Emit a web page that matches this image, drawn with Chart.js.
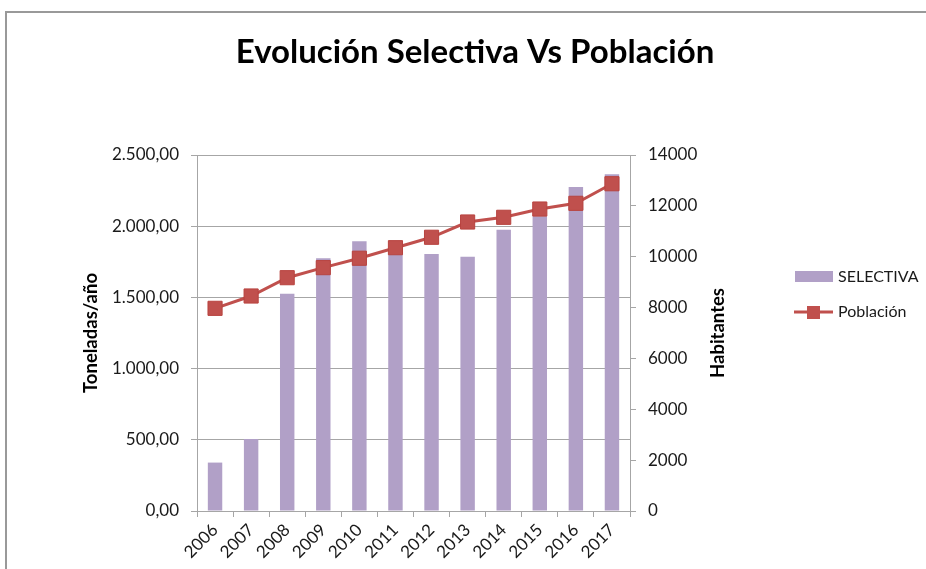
<!DOCTYPE html>
<html>
<head>
<meta charset="utf-8">
<script src="https://cdn.jsdelivr.net/npm/chart.js@4"></script>
<style>
  html, body { margin: 0; padding: 0; background: #fff; overflow: hidden; }
  #wrap { position: relative; width: 926px; height: 569px; }
  #frame { position: absolute; left: 5px; top: 11px; width: 1000px; height: 700px;
           border: 2px solid #999; box-sizing: border-box; }
  canvas { position: absolute; left: 0; top: 0; }
</style>
</head>
<body>
<div id="wrap">
  <div id="frame"></div>
  <canvas id="chart" width="926" height="569"></canvas>
</div>
<script>
(function () {
  'use strict';

  const YEARS     = ['2006', '2007', '2008', '2009', '2010', '2011', '2012', '2013', '2014', '2015', '2016', '2017'];
  const SELECTIVA = [340, 505, 1525, 1775, 1895, 1830, 1805, 1785, 1975, 2070, 2275, 2365];
  const POBLACION = [7970, 8455, 9175, 9570, 9940, 10355, 10765, 11365, 11550, 11875, 12100, 12870];

  const PURPLE = '#B1A0C7';
  const RED    = '#C0504D';
  const GRID   = '#a6a6a6';
  const TEXT   = '#1a1a1a';
  const FONT   = 'Lato';

  // 2500 -> "2.500,00"
  function fmtTon(v) {
    const parts = Math.round(v).toString().replace(/\B(?=(\d{3})+(?!\d))/g, '.');
    return parts + ',00';
  }

  const chartTitle = {
    id: 'chartTitle',
    afterDraw(chart) {
      const { ctx } = chart;
      ctx.save();
      ctx.fillStyle = '#000';
      ctx.font = 'bold 33px ' + FONT;
      ctx.textAlign = 'center';
      ctx.textBaseline = 'alphabetic';
      ctx.fillText('Evolución Selectiva Vs Población', 475, 63);
      ctx.restore();
    },
  };

  const axisTitles = {
    id: 'axisTitles',
    afterDraw(chart) {
      const { ctx, chartArea } = chart;
      const cy = (chartArea.top + chartArea.bottom) / 2;
      ctx.save();
      ctx.fillStyle = '#000';
      ctx.font = 'bold 18.5px ' + FONT;
      ctx.textAlign = 'center';
      ctx.textBaseline = 'middle';
      [['Toneladas/año', 91], ['Habitantes', 718]].forEach(([t, x]) => {
        ctx.save();
        ctx.translate(x, cy);
        ctx.rotate(-Math.PI / 2);
        ctx.fillText(t, 0, 0);
        ctx.restore();
      });
      ctx.restore();
    },
  };

  const sideLegend = {
    id: 'sideLegend',
    afterDraw(chart) {
      const { ctx } = chart;
      ctx.save();
      ctx.font = '16px ' + FONT;
      ctx.textBaseline = 'middle';
      // SELECTIVA
      ctx.fillStyle = PURPLE;
      ctx.fillRect(795, 271, 38, 11);
      ctx.fillStyle = TEXT;
      ctx.fillText('SELECTIVA', 838, 277);
      // Población
      ctx.strokeStyle = RED;
      ctx.lineWidth = 3;
      ctx.beginPath();
      ctx.moveTo(794, 312);
      ctx.lineTo(833, 312);
      ctx.stroke();
      ctx.fillStyle = RED;
      ctx.fillRect(807, 306, 13, 13);
      ctx.fillStyle = TEXT;
      ctx.fillText('Población', 838, 312);
      ctx.restore();
    },
  };

  new Chart(document.getElementById('chart'), {
    type: 'bar',
    data: {
      labels: YEARS,
      datasets: [
        {
          type: 'line',
          label: 'Población',
          data: POBLACION,
          yAxisID: 'y1',
          borderColor: RED,
          backgroundColor: RED,
          borderWidth: 3,
          pointStyle: 'rect',
          pointRadius: 10,
          pointBorderWidth: 1,
          pointBorderColor: '#b8433f',
          tension: 0,
          order: 0,
        },
        {
          type: 'bar',
          label: 'SELECTIVA',
          data: SELECTIVA,
          yAxisID: 'y',
          backgroundColor: PURPLE,
          barPercentage: 0.4,
          categoryPercentage: 1,
          order: 1,
        },
      ],
    },
    options: {
      responsive: false,
      animation: false,
      layout: { padding: { left: 70, right: 196, top: 155, bottom: 0 } },
      plugins: {
        legend: { display: false },
        tooltip: { enabled: false },
        title: { display: false },
      },
      scales: {
        x: {
          offset: true,
          grid: { offset: true, drawOnChartArea: false, tickLength: 6, color: GRID },
          border: { color: GRID },
          ticks: { maxRotation: 45, minRotation: 45, color: TEXT, font: { family: FONT, size: 17 }, padding: 3 },
          afterFit: s => { s.height = 58; },
        },
        y: {
          position: 'left',
          min: 0,
          max: 2500,
          grid: { color: GRID, tickLength: 6 },
          border: { color: GRID },
          ticks: { stepSize: 500, color: TEXT, font: { family: FONT, size: 17 }, padding: 12, callback: fmtTon },
          afterFit: s => { s.width = 127; },
        },
        y1: {
          position: 'right',
          min: 0,
          max: 14000,
          grid: { drawOnChartArea: false, color: GRID, tickLength: 6 },
          border: { color: GRID },
          ticks: { stepSize: 2000, color: TEXT, font: { family: FONT, size: 17 }, padding: 12, callback: v => String(v) },
          afterFit: s => { s.width = 100; },
        },
      },
    },
    plugins: [chartTitle, axisTitles, sideLegend],
  });
})();
</script>
</body>
</html>
